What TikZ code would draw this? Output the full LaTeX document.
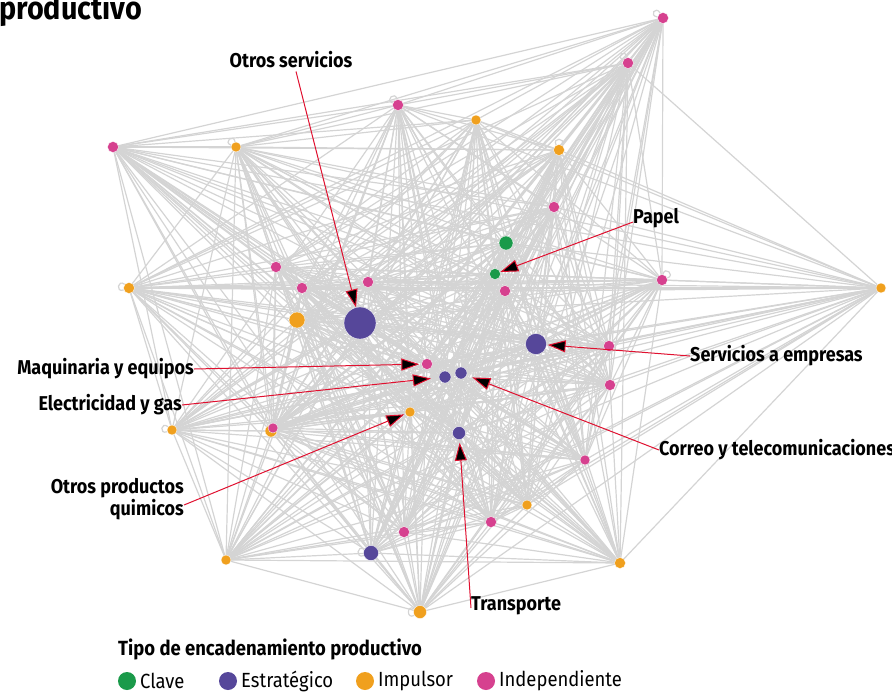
\documentclass[tikz,border=0pt]{standalone}
\usepackage{fontspec}
\setmainfont{Fira Sans}[FakeStretch=0.9]
\usetikzlibrary{arrows.meta,backgrounds,calc}
\definecolor{cmag}{HTML}{D6418F}
\definecolor{cora}{HTML}{F0A01E}
\definecolor{cpur}{HTML}{56479A}
\definecolor{cgrn}{HTML}{1A9A4A}
\definecolor{cedge}{HTML}{D4D4D4}
\definecolor{cred}{HTML}{E0102F}
\tikzset{
  base/.style={circle,inner sep=0pt,draw=white,line width=0.3pt},
  mag/.style={base,fill=cmag,minimum size=11pt},
  ora/.style={base,fill=cora,minimum size=10pt},
  pur/.style={base,fill=cpur,minimum size=13pt},
  grn/.style={base,fill=cgrn,minimum size=11pt},
  edge/.style={draw=cedge,line width=1.2pt},
  loopy/.style={draw=cedge,line width=1.2pt,min distance=9pt},
  annot/.style={draw=cred,line width=1pt,-{Triangle[length=18pt,width=12pt,fill=black]}},
  lbl/.style={inner sep=0pt,font=\bfseries\fontsize{20}{22}\selectfont},
  legtxt/.style={inner sep=0pt,font=\fontsize{20.5}{22}\selectfont,anchor=west},
}
\begin{document}
\begin{tikzpicture}[x=1pt,y=-1pt]
\useasboundingbox (0,0) rectangle (892,694);
% nodes
\node[mag] (n1) at (663,18) {};
\node[mag] (n2) at (628,63) {};
\node[mag] (n3) at (398,105) {};
\node[ora] (n4) at (476,120) {};
\node[mag] (n5) at (113,147) {};
\node[ora] (n6) at (236,147) {};
\node[ora,minimum size=11pt] (n7) at (559,150) {};
\node[mag] (n8) at (554,207) {};
\node[grn,minimum size=14pt] (n9) at (506,243) {};
\node[grn] (n10) at (495,274) {};
\node[mag] (n11) at (276,267) {};
\node[mag] (n12) at (368,282) {};
\node[mag] (n13) at (302,288) {};
\node[mag] (n14) at (505,291) {};
\node[ora,minimum size=11pt] (n15) at (129,288) {};
\node[mag] (n16) at (662,280) {};
\node[ora] (n17) at (881,288) {};
\node[ora,minimum size=16pt] (n18) at (297,320) {};
\node[pur,minimum size=32pt] (n19) at (360,323) {};
\node[pur,minimum size=21pt] (n20) at (536,344) {};
\node[mag] (n21) at (609,346) {};
\node[mag] (n22) at (427,364) {};
\node[pur,minimum size=12pt] (n23) at (461,373) {};
\node[pur,minimum size=12pt] (n24) at (445,377) {};
\node[mag] (n25) at (610,385) {};
\node[ora] (n26) at (410,412) {};
\node[ora] (n27) at (172,430) {};
\node[ora,minimum size=12pt] (n28) at (271,431) {};
\node[mag,minimum size=10pt] (n29) at (273,428) {};
\node[pur] (n30) at (459,433) {};
\node[mag,minimum size=10pt] (n31) at (585,460) {};
\node[ora] (n32) at (527,505) {};
\node[mag] (n33) at (491,522) {};
\node[mag] (n34) at (404,532) {};
\node[pur,minimum size=15pt] (n35) at (371,553) {};
\node[ora] (n36) at (226,560) {};
\node[ora,minimum size=11pt] (n37) at (620,563) {};
\node[ora,minimum size=13pt] (n38) at (420,612) {};
% edges
\begin{scope}[on background layer]
\foreach \i in {1,...,38}{
  \foreach \j in {1,...,38}{
    \ifnum\j>\i
      \pgfmathtruncatemacro\r{mod(\i*17+\j*29,10)}
      \ifnum\r>0
        \draw[edge] (n\i.center) -- (n\j.center);
      \fi
    \fi
  }
}
\draw[loopy] (n1) to[out=170,in=120] (n1);
\draw[loopy] (n2) to[out=150,in=100] (n2);
\draw[loopy] (n3) to[out=160,in=100] (n3);
\draw[loopy] (n6) to[out=160,in=100] (n6);
\draw[loopy] (n7) to[out=120,in=60] (n7);
\draw[loopy] (n15) to[out=200,in=140] (n15);
\draw[loopy] (n16) to[out=80,in=20] (n16);
\draw[loopy] (n27) to[out=200,in=140] (n27);
\draw[loopy] (n35) to[out=200,in=150] (n35);
\draw[loopy] (n38) to[out=210,in=150] (n38);
\end{scope}
% title
\node[inner sep=0pt,anchor=base west,font=\bfseries\fontsize{32}{34}\selectfont] (title) at (-1,19) {productivo};
% labels
\node[lbl] (lOS) at (291,60) {Otros servicios};
\node[lbl,anchor=west] (lP) at (633,218) {Papel};
\node[lbl,anchor=west] (lSE) at (690,356) {Servicios a empresas};
\node[lbl,anchor=east] (lMQ) at (194,369) {Maquinaria y equipos};
\node[lbl,anchor=east] (lEG) at (182,405) {Electricidad y gas};
\node[lbl,anchor=east,align=right,font=\bfseries\fontsize{20}{13}\selectfont] (lQ) at (184,499) {Otros productos\\quimicos};
\node[lbl,anchor=west] (lCT) at (659,450) {Correo y telecomunicaciones};
\node[lbl,anchor=west] (lT) at (471,606) {Transporte};
% annotation arrows
\draw[annot] ([xshift=5pt,yshift=-3pt]lOS.south) -- (n19);
\draw[annot] ([yshift=-4pt]lP.west) -- (n10);
\draw[annot,shorten >=1pt] (lSE.west) -- (n20);
\draw[annot,shorten >=2pt] (lMQ.east) -- (n22);
\draw[annot,shorten >=8pt] (lEG.east) -- (n24);
\draw[annot,shorten >=1pt] ([yshift=-6pt]lQ.east) -- (n26);
\draw[annot,shorten >=6pt] (lCT.west) -- (n23);
\draw[annot,shorten >=3pt] ([yshift=-2pt]lT.west) -- (n30);
% legend
\node[inner sep=0pt,anchor=west,font=\bfseries\fontsize{20.5}{22}\selectfont] (lh) at (118,649) {Tipo de encadenamiento productivo};
\node[base,fill=cgrn,minimum size=18pt,draw=none] (g1) at (127,681) {};
\node[legtxt] (t1) at (140,681) {Clave};
\node[base,fill=cpur,minimum size=18pt,draw=none] (g2) at (228,681) {};
\node[legtxt] (t2) at (241,681) {Estratégico};
\node[base,fill=cora,minimum size=18pt,draw=none] (g3) at (365,681) {};
\node[legtxt] (t3) at (378,681) {Impulsor};
\node[base,fill=cmag,minimum size=18pt,draw=none] (g4) at (486,681) {};
\node[legtxt] (t4) at (499,681) {Independiente};
\end{tikzpicture}
\end{document}
